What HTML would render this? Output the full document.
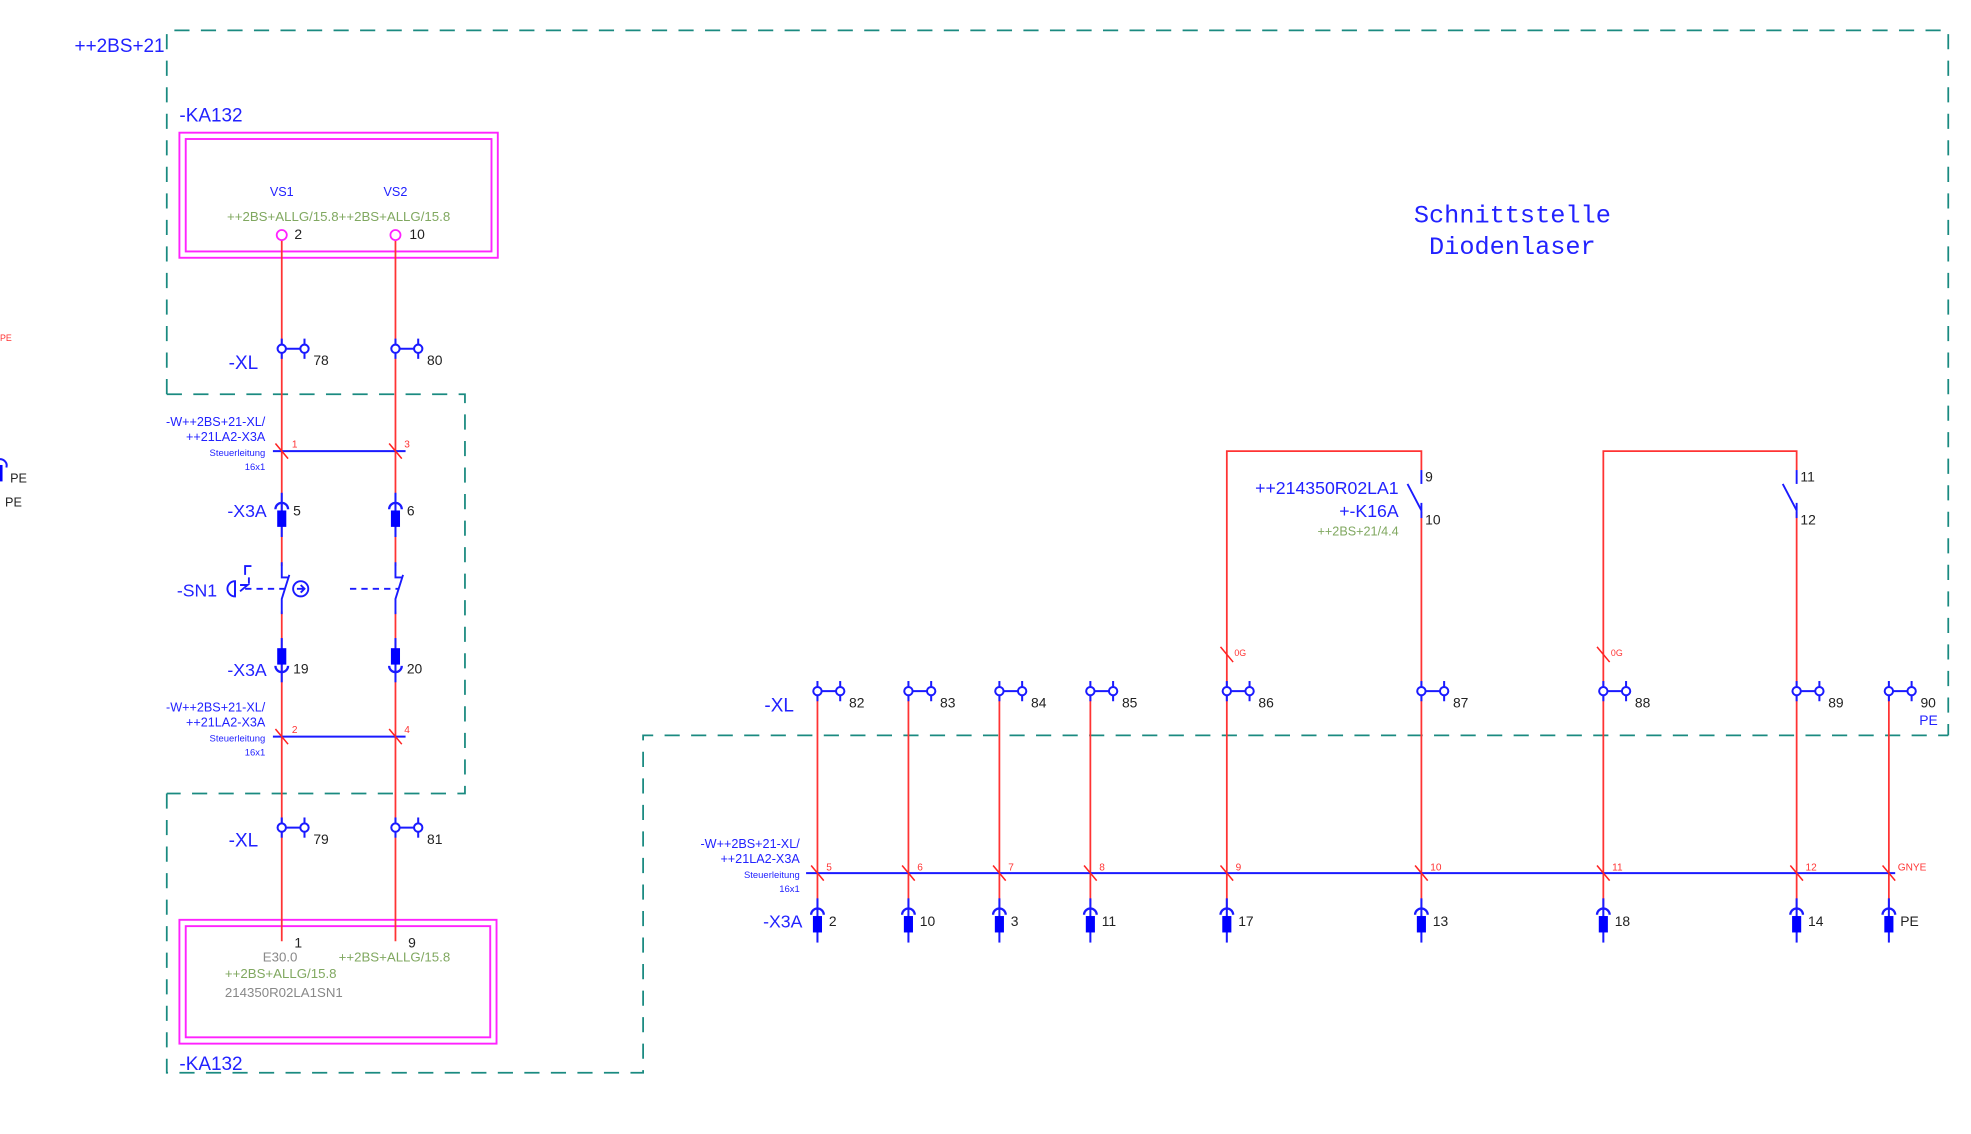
<!DOCTYPE html>
<html><head><meta charset="utf-8"><style>
html,body{margin:0;padding:0;background:#fff;width:1971px;height:1134px;overflow:hidden}
svg{display:block}
text{font-family:"Liberation Sans",sans-serif}
.b{fill:#2222ff}.k{fill:#222}.g{fill:#80a860}.gr{fill:#888}.r{fill:#ff3333}
</style></head><body>
<svg width="1971" height="1134" viewBox="0 0 1560 897.5" xmlns="http://www.w3.org/2000/svg">
<defs>
<g id="xl">
 <line x1="0" y1="-8" x2="0" y2="8" stroke="#1a1aff" stroke-width="1.6"/>
 <line x1="0" y1="0" x2="18" y2="0" stroke="#1a1aff" stroke-width="1.6"/>
 <line x1="18" y1="-8" x2="18" y2="8" stroke="#1a1aff" stroke-width="1.6"/>
 <circle cx="0" cy="0" r="3.3" fill="#fff" stroke="#1a1aff" stroke-width="1.6"/>
 <circle cx="18" cy="0" r="3.3" fill="#fff" stroke="#1a1aff" stroke-width="1.6"/>
</g>
<g id="plugU">
 <line x1="0" y1="-9" x2="0" y2="26" stroke="#1a1aff" stroke-width="1.6"/>
 <path d="M-5,4 A5,5 0 0 1 5,4" fill="none" stroke="#1a1aff" stroke-width="1.8"/>
 <rect x="-3.6" y="5" width="7.2" height="13" fill="#0000ff"/>
</g>
<g id="plugD">
 <line x1="0" y1="-26" x2="0" y2="9" stroke="#1a1aff" stroke-width="1.6"/>
 <path d="M-5,-4 A5,5 0 0 0 5,-4" fill="none" stroke="#1a1aff" stroke-width="1.8"/>
 <rect x="-3.6" y="-18" width="7.2" height="13" fill="#0000ff"/>
</g>
<line id="sl" x1="-5" y1="-6" x2="5" y2="6" stroke="#ff2222" stroke-width="1.2"/>
</defs>

<!-- dashed borders -->
<g fill="none" stroke="#1a8a80" stroke-width="1.4" stroke-dasharray="12,9">
 <path d="M132,312 L132,24 L1542,24 L1542,582"/>
 <path d="M132,312 L368,312 L368,628 L132,628"/>
 <path d="M132,628 L132,849 L509,849 L509,582 L1542,582"/>
</g>

<text x="59" y="41" class="b" font-size="15">++2BS+21</text>
<text x="142" y="96" class="b" font-size="15">-KA132</text>
<text x="142" y="847" class="b" font-size="15">-KA132</text>

<!-- magenta boxes -->
<g fill="none" stroke="#ff22ff" stroke-width="1.5">
 <rect x="142" y="105" width="252" height="99"/><rect x="147" y="110" width="242" height="89"/>
 <rect x="142" y="728" width="251" height="98"/><rect x="147" y="733" width="241" height="88"/>
</g>
<text x="223" y="155" class="b" font-size="10" text-anchor="middle">VS1</text>
<text x="313" y="155" class="b" font-size="10" text-anchor="middle">VS2</text>
<text x="268" y="175" class="g" font-size="10.5" text-anchor="middle">++2BS+ALLG/15.8++2BS+ALLG/15.8</text>
<text x="233" y="189" class="k" font-size="11">2</text>
<text x="324" y="189" class="k" font-size="11">10</text>

<!-- left red wires -->
<g stroke="#ff3333" stroke-width="1.4">
 <line x1="223" y1="190" x2="223" y2="745"/><line x1="313" y1="190" x2="313" y2="745"/>
</g>
<circle cx="223" cy="186" r="4" fill="#fff" stroke="#ff22ff" stroke-width="1.4"/>
<circle cx="313" cy="186" r="4" fill="#fff" stroke="#ff22ff" stroke-width="1.4"/>

<use href="#xl" x="223" y="276"/><use href="#xl" x="313" y="276"/>
<text x="248" y="289" class="k" font-size="11">78</text><text x="338" y="289" class="k" font-size="11">80</text>
<text x="181" y="292" class="b" font-size="15">-XL</text>
<use href="#xl" x="223" y="655"/><use href="#xl" x="313" y="655"/>
<text x="248" y="668" class="k" font-size="11">79</text><text x="338" y="668" class="k" font-size="11">81</text>
<text x="181" y="670" class="b" font-size="15">-XL</text>

<!-- cable 1 -->
<line x1="216" y1="357" x2="321" y2="357" stroke="#1a1aff" stroke-width="1.6"/>
<use href="#sl" x="223" y="357"/><use href="#sl" x="313" y="357"/>
<text x="231" y="354" class="r" font-size="8">1</text><text x="320" y="354" class="r" font-size="8">3</text>
<g class="b" text-anchor="end">
 <text x="210" y="337" font-size="10">-W++2BS+21-XL/</text>
 <text x="210" y="349" font-size="10">++21LA2-X3A</text>
 <text x="210" y="361" font-size="7.5">Steuerleitung</text>
 <text x="210" y="372" font-size="7.5">16x1</text>
</g>
<line x1="216" y1="583" x2="321" y2="583" stroke="#1a1aff" stroke-width="1.6"/>
<use href="#sl" x="223" y="583"/><use href="#sl" x="313" y="583"/>
<text x="231" y="580" class="r" font-size="8">2</text><text x="320" y="580" class="r" font-size="8">4</text>
<g class="b" text-anchor="end">
 <text x="210" y="563" font-size="10">-W++2BS+21-XL/</text>
 <text x="210" y="575" font-size="10">++21LA2-X3A</text>
 <text x="210" y="587" font-size="7.5">Steuerleitung</text>
 <text x="210" y="598" font-size="7.5">16x1</text>
</g>

<!-- X3A left -->
<use href="#plugU" x="223" y="399"/><use href="#plugU" x="313" y="399"/>
<text x="180" y="409" class="b" font-size="14">-X3A</text>
<text x="232" y="408" class="k" font-size="11">5</text><text x="322" y="408" class="k" font-size="11">6</text>
<use href="#plugD" x="223" y="531"/><use href="#plugD" x="313" y="531"/>
<text x="180" y="535" class="b" font-size="14">-X3A</text>
<text x="232" y="533" class="k" font-size="11">19</text><text x="322" y="533" class="k" font-size="11">20</text>

<!-- SN1 -->
<rect x="219" y="448" width="8" height="36" fill="#fff"/>
<rect x="309" y="448" width="8" height="36" fill="#fff"/>
<g stroke="#1a1aff" stroke-width="1.5" fill="none">
 <path d="M223,445 V457 H228"/><path d="M229,455 L223,474 V486"/>
 <path d="M313,445 V457 H318"/><path d="M319,455 L313,474 V486"/>
 <line x1="194" y1="466" x2="226" y2="466" stroke-dasharray="5,4"/>
 <line x1="277" y1="466" x2="316" y2="466" stroke-dasharray="5,4"/>
 <circle cx="238" cy="466" r="6"/><path d="M235,466 h6 M238,463 l3,3 l-3,3"/>
 <path d="M186,460 A6,6 0 0 0 186,472 Z"/><line x1="186" y1="460" x2="186" y2="472"/>
 <path d="M194,455 v-7 h5 M197,462 v-5 M190,468 l6,-5 h-6"/>
</g>
<text x="140" y="472" class="b" font-size="14">-SN1</text>

<!-- bottom box text -->
<text x="233" y="750" class="k" font-size="11">1</text><text x="323" y="750" class="k" font-size="11">9</text>
<text x="208" y="761" class="gr" font-size="10.5">E30.0</text>
<text x="268" y="761" class="g" font-size="10.5">++2BS+ALLG/15.8</text>
<text x="178" y="774" class="g" font-size="10.5">++2BS+ALLG/15.8</text>
<text x="178" y="789" class="gr" font-size="10.5">214350R02LA1SN1</text>

<!-- left edge fragments -->
<text x="0" y="270" class="r" font-size="7">PE</text>
<path d="M-2,364 A5,5 0 0 1 5,370" fill="none" stroke="#1a1aff" stroke-width="1.6"/>
<rect x="0" y="368" width="2" height="13" fill="#0000ff"/>
<text x="8" y="382" class="k" font-size="10">PE</text>
<text x="4" y="401" class="k" font-size="10">PE</text>

<!-- Title -->
<text x="1197" y="176" class="b" font-size="20" text-anchor="middle" style="font-family:'Liberation Mono',monospace">Schnittstelle</text>
<text x="1197" y="201" class="b" font-size="20" text-anchor="middle" style="font-family:'Liberation Mono',monospace">Diodenlaser</text>

<!-- right part wires -->
<g stroke="#ff3333" stroke-width="1.4" fill="none">
 <line x1="647" y1="547" x2="647" y2="720"/><line x1="719" y1="547" x2="719" y2="720"/>
 <line x1="791" y1="547" x2="791" y2="720"/><line x1="863" y1="547" x2="863" y2="720"/>
 <path d="M971,720 V357 H1125 V372"/><path d="M1125,405 V720"/>
 <path d="M1269,720 V357 H1422 V372"/><path d="M1422,405 V720"/>
 <line x1="1495" y1="547" x2="1495" y2="720"/>
</g>
<g stroke="#1a1aff" stroke-width="1.5">
 <line x1="1125" y1="372" x2="1125" y2="383"/><line x1="1114" y1="383" x2="1125" y2="404"/><line x1="1125" y1="398" x2="1125" y2="410"/>
 <line x1="1422" y1="372" x2="1422" y2="383"/><line x1="1411" y1="383" x2="1422" y2="404"/><line x1="1422" y1="398" x2="1422" y2="410"/>
</g>
<text x="1128" y="381" class="k" font-size="11">9</text><text x="1128" y="415" class="k" font-size="11">10</text>
<text x="1425" y="381" class="k" font-size="11">11</text><text x="1425" y="415" class="k" font-size="11">12</text>
<g class="b" text-anchor="end">
 <text x="1107" y="391" font-size="14">++214350R02LA1</text>
 <text x="1107" y="409" font-size="14">+-K16A</text>
</g>
<text x="1107" y="424" class="g" font-size="10" text-anchor="end">++2BS+21/4.4</text>
<use href="#sl" x="971" y="518"/><use href="#sl" x="1269" y="518"/>
<text x="977" y="519" class="r" font-size="7">0G</text><text x="1275" y="519" class="r" font-size="7">0G</text>

<!-- XL right -->
<use href="#xl" x="647" y="547"/><use href="#xl" x="719" y="547"/><use href="#xl" x="791" y="547"/>
<use href="#xl" x="863" y="547"/><use href="#xl" x="971" y="547"/><use href="#xl" x="1125" y="547"/>
<use href="#xl" x="1269" y="547"/><use href="#xl" x="1422" y="547"/><use href="#xl" x="1495" y="547"/>
<g class="k" font-size="11">
 <text x="672" y="560">82</text><text x="744" y="560">83</text><text x="816" y="560">84</text>
 <text x="888" y="560">85</text><text x="996" y="560">86</text><text x="1150" y="560">87</text>
 <text x="1294" y="560">88</text><text x="1447" y="560">89</text><text x="1520" y="560">90</text>
</g>
<text x="1519" y="574" class="b" font-size="11">PE</text>
<text x="605" y="563" class="b" font-size="15">-XL</text>

<!-- bus -->
<line x1="638" y1="691" x2="1500" y2="691" stroke="#1a1aff" stroke-width="1.6"/>
<use href="#sl" x="647" y="691"/><use href="#sl" x="719" y="691"/><use href="#sl" x="791" y="691"/>
<use href="#sl" x="863" y="691"/><use href="#sl" x="971" y="691"/><use href="#sl" x="1125" y="691"/>
<use href="#sl" x="1269" y="691"/><use href="#sl" x="1422" y="691"/><use href="#sl" x="1495" y="691"/>
<g class="r" font-size="8">
 <text x="654" y="689">5</text><text x="726" y="689">6</text><text x="798" y="689">7</text>
 <text x="870" y="689">8</text><text x="978" y="689">9</text><text x="1132" y="689">10</text>
 <text x="1276" y="689">11</text><text x="1429" y="689">12</text><text x="1502" y="689">GNYE</text>
</g>
<g class="b" text-anchor="end">
 <text x="633" y="671" font-size="10">-W++2BS+21-XL/</text>
 <text x="633" y="683" font-size="10">++21LA2-X3A</text>
 <text x="633" y="695" font-size="7.5">Steuerleitung</text>
 <text x="633" y="706" font-size="7.5">16x1</text>
</g>

<!-- X3A right -->
<use href="#plugU" x="647" y="720"/><use href="#plugU" x="719" y="720"/><use href="#plugU" x="791" y="720"/>
<use href="#plugU" x="863" y="720"/><use href="#plugU" x="971" y="720"/><use href="#plugU" x="1125" y="720"/>
<use href="#plugU" x="1269" y="720"/><use href="#plugU" x="1422" y="720"/><use href="#plugU" x="1495" y="720"/>
<text x="604" y="734" class="b" font-size="14">-X3A</text>
<g class="k" font-size="11">
 <text x="656" y="733">2</text><text x="728" y="733">10</text><text x="800" y="733">3</text>
 <text x="872" y="733">11</text><text x="980" y="733">17</text><text x="1134" y="733">13</text>
 <text x="1278" y="733">18</text><text x="1431" y="733">14</text><text x="1504" y="733">PE</text>
</g>
</svg>
</body></html>
